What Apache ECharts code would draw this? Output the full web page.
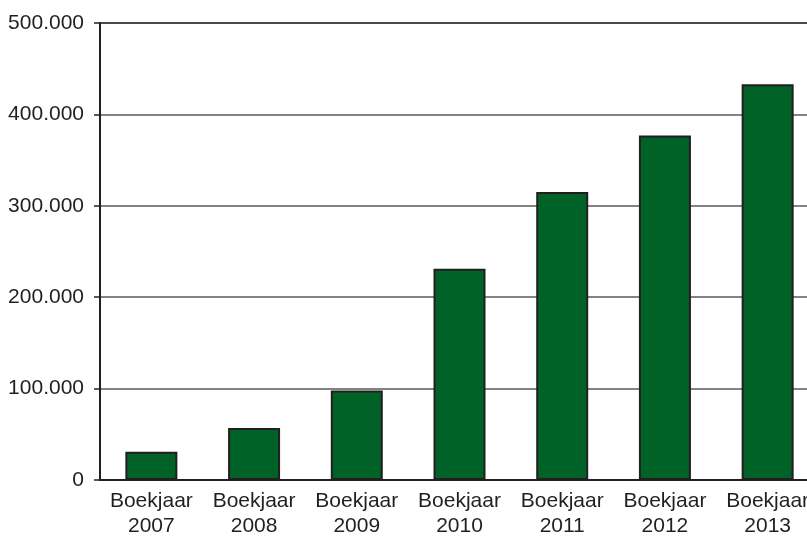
<!DOCTYPE html>
<html>
<head>
<meta charset="utf-8">
<script src="https://cdn.jsdelivr.net/npm/echarts@6/dist/echarts.min.js"></script>
<style>
  html, body { margin: 0; padding: 0; background: #fff; }
  #chart { width: 807px; height: 536px; }
</style>
</head>
<body>
<div id="chart"></div>
<script>
// categorieën en waarden
const years = ['Boekjaar\n2007', 'Boekjaar\n2008', 'Boekjaar\n2009', 'Boekjaar\n2010',
  'Boekjaar\n2011', 'Boekjaar\n2012', 'Boekjaar\n2013']
const values = [31000, 57000, 98000, 231000, 315000, 377000, 433000]

const ink = '#231f20'

const chart = echarts.init(document.getElementById('chart'))
chart.setOption({
  animation: false,
  textStyle: { fontFamily: 'Liberation Sans' },
  grid: {
    left: 100,
    width: 719, // loopt rechts buiten beeld door, zoals het origineel
    top: 23,
    bottom: 56,
    outerBoundsMode: 'none',
    containLabel: false,
    show: true,
    borderColor: ink,
    borderWidth: 2,
  },
  xAxis: {
    type: 'category',
    data: years,
    axisLine: { lineStyle: { color: ink, width: 2 } },
    axisTick: { length: 6, lineStyle: { color: ink, width: 1.5 } },
    axisLabel: {
      color: ink,
      fontSize: 21,
      lineHeight: 25,
      margin: 9,
      interval: 0,
    },
  },
  yAxis: {
    type: 'value',
    min: 0,
    max: 500000,
    interval: 100000,
    axisLine: { show: true, lineStyle: { color: ink, width: 2 } },
    axisTick: { show: true, length: 6, lineStyle: { color: ink, width: 1.5 } },
    splitLine: { lineStyle: { color: '#5a5a5a', width: 1.5 } },
    axisLabel: {
      color: ink,
      fontSize: 21,
      margin: 16,
      // duizendtallen met een punt
      formatter: v => v === 0 ? '0' : String(v).replace(/\B(?=(\d{3})+(?!\d))/g, '.'),
    },
  },
  series: [
    {
      type: 'bar',
      data: values,
      barWidth: 52,
      itemStyle: {
        color: '#006227',
        borderColor: ink,
        borderWidth: 2,
      },
    },
  ],
})
</script>
</body>
</html>
